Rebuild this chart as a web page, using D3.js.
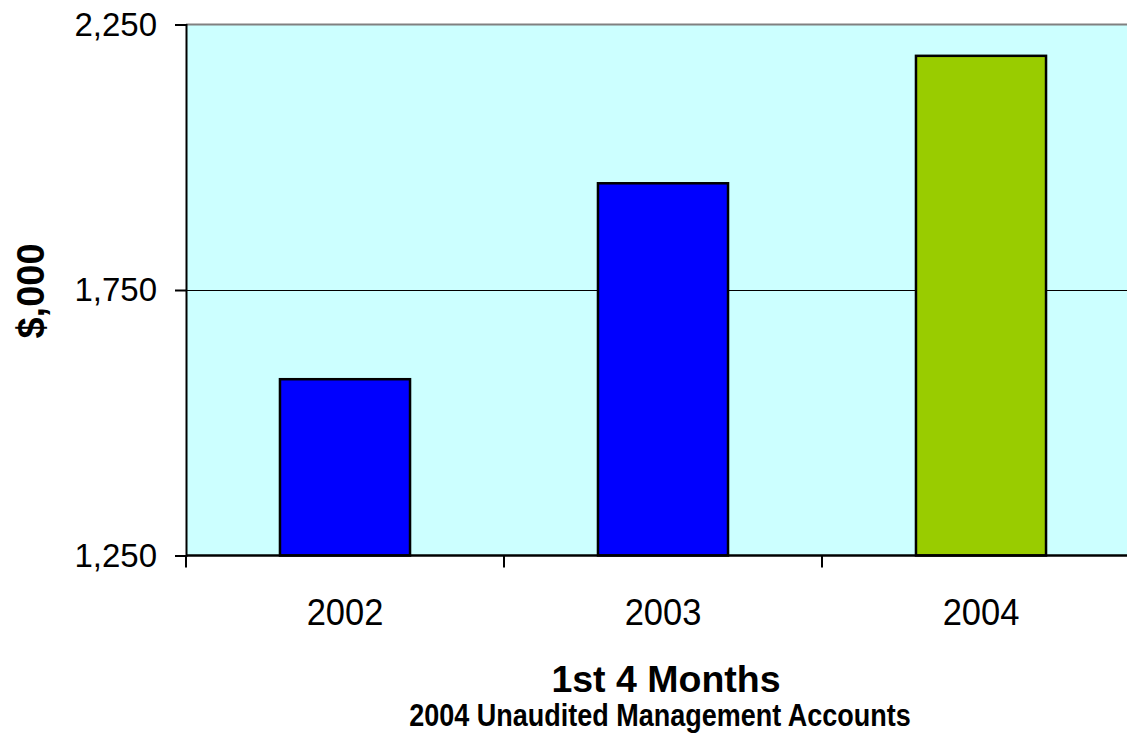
<!DOCTYPE html>
<html>
<head>
<meta charset="utf-8">
<script src="https://cdn.jsdelivr.net/npm/d3@7"></script>
<style>
  body { margin: 0; background: #fff; }
  text { font-family: "Liberation Sans", Arial, sans-serif; }
</style>
</head>
<body>
<div id="chart"></div>
<script>
var years = ['2002', '2003', '2004'];
var values = [1582, 1951, 2191];
var barColors = ['#0000ff', '#0000ff', '#99cc00'];
var yTicks = [1250, 1750, 2250];

var width = 1127;
var height = 733;

var margin = {left: 186, right: -13, top: 24.5, bottom: 177.5};

var svg = d3.select("#chart")
    .append("svg")
    .attr("width", width)
    .attr("height", height);

var x = d3.scaleBand()
    .domain(years)
    .range([margin.left, width - margin.right])
    .paddingInner(0.591)
    .paddingOuter(0.2955);

var y = d3.scaleLinear()
    .domain([1250, 2250])
    .range([height - margin.bottom, margin.top]);

// plot background
svg.append("rect")
    .attr("x", margin.left)
    .attr("y", margin.top)
    .attr("width", width - margin.left)
    .attr("height", y(1250) - margin.top)
    .attr("fill", "#ccffff");

// top border (grey)
svg.append("line")
    .attr("x1", margin.left).attr("x2", width)
    .attr("y1", margin.top).attr("y2", margin.top)
    .attr("stroke", "#808080").attr("stroke-width", 2);

// gridlines
svg.selectAll("line.grid")
    .data(yTicks.slice(1, -1))
    .enter().append("line")
      .attr("class", "grid")
      .attr("x1", margin.left).attr("x2", width)
      .attr("y1", function(d){ return y(d) + 0.5; })
      .attr("y2", function(d){ return y(d) + 0.5; })
      .attr("stroke", "#000").attr("stroke-width", 1)
      .attr("shape-rendering", "crispEdges");

// bars
svg.selectAll("rect.bar")
    .data(values)
    .enter().append("rect")
      .attr("class", "bar")
      .attr("x", function(d, i){ return x(years[i]); })
      .attr("y", function(d){ return y(d); })
      .attr("width", x.bandwidth())
      .attr("height", function(d){ return y(1250) - y(d); })
      .attr("fill", function(d, i){ return barColors[i]; })
      .attr("stroke", "#000")
      .attr("stroke-width", 2.5);

// y axis
var yAxis = d3.axisLeft(y)
    .tickValues(yTicks)
    .tickFormat(d3.format(","))
    .tickSize(11)
    .tickPadding(18);

var gy = svg.append("g")
    .attr("transform", "translate(" + margin.left + ",0)")
    .call(yAxis);
gy.select(".domain").attr("stroke", "#000").attr("stroke-width", 2);
gy.selectAll(".tick line").attr("stroke", "#000").attr("stroke-width", 2);
gy.selectAll(".tick text")
    .attr("font-size", 33)
    .attr("fill", "#000")
    .style("font-family", "'Liberation Sans', Arial, sans-serif");

// x axis
var bandStep = x.step();
var xBounds = [0, 1, 2, 3].map(function(i){ return margin.left + i * bandStep; });

var gx = svg.append("g")
    .attr("transform", "translate(0," + y(1250) + ")");
gx.append("line")
    .attr("x1", margin.left).attr("x2", width)
    .attr("y1", 0).attr("y2", 0)
    .attr("stroke", "#000").attr("stroke-width", 2.5);
gx.selectAll("line.tk")
    .data(xBounds)
    .enter().append("line")
      .attr("class", "tk")
      .attr("x1", function(d){ return d; })
      .attr("x2", function(d){ return d; })
      .attr("y1", 0).attr("y2", 12)
      .attr("stroke", "#000").attr("stroke-width", 2);
gx.selectAll("text")
    .data(years)
    .enter().append("text")
      .attr("transform", function(d){ return "translate(" + (x(d) + x.bandwidth() / 2) + ",69) scale(1,1.07)"; })
      .attr("text-anchor", "middle")
      .attr("font-size", 34.5)
      .text(function(d){ return d; });

// axis titles
svg.append("text")
    .attr("transform", "translate(43.5,291) rotate(-90)")
    .attr("text-anchor", "middle")
    .attr("font-size", 38)
    .attr("font-weight", "bold")
    .text("$,000");

svg.append("text")
    .attr("x", 666)
    .attr("y", 692)
    .attr("text-anchor", "middle")
    .attr("font-size", 37.5)
    .attr("font-weight", "bold")
    .text("1st 4 Months");

svg.append("text")
    .attr("transform", "translate(660,726) scale(1,1.17)")
    .attr("text-anchor", "middle")
    .attr("font-size", 27)
    .attr("font-weight", "bold")
    .text("2004 Unaudited Management Accounts");
</script>
</body>
</html>
